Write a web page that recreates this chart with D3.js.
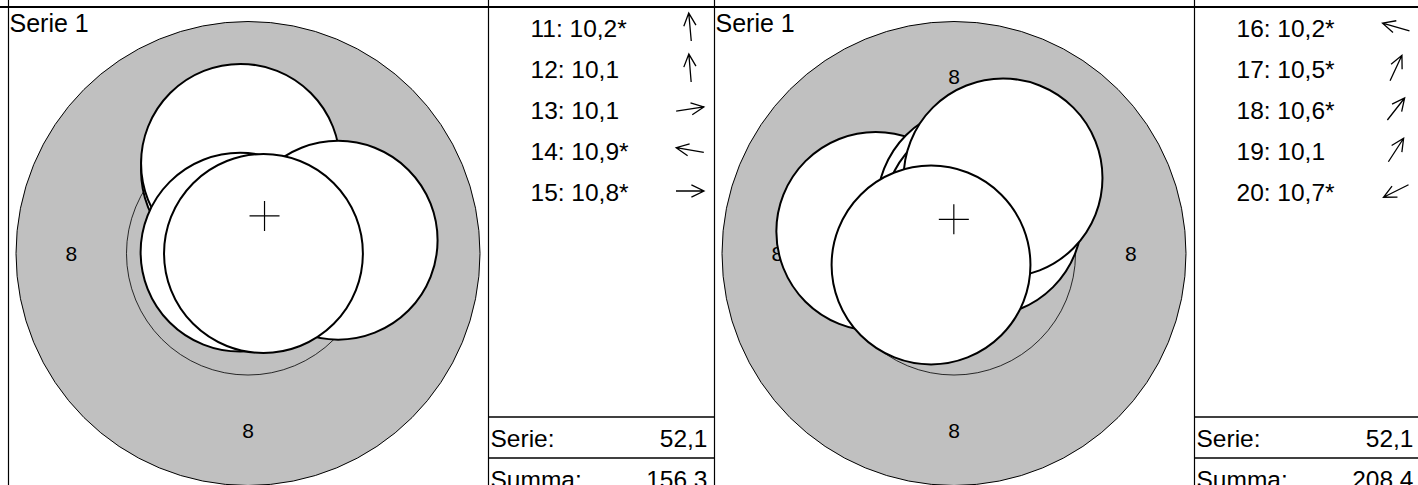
<!DOCTYPE html>
<html>
<head>
<meta charset="utf-8">
<script src="https://cdn.jsdelivr.net/npm/d3@7"></script>
<style>
  body { margin: 0; background: #fff; }
  svg { display: block; }
  text { font-family: "Liberation Sans", Arial, Helvetica, sans-serif; fill: #000; }
</style>
</head>
<body>
<div id="chart"></div>
<script>
// --- data ---------------------------------------------------------------
// shot numbers, decimal scores and positions (mm from target centre, x right, y up)
const shotNumbers = [[11, 12, 13, 14, 15], [16, 17, 18, 19, 20]];
const shotScores  = [[10.2, 10.1, 10.1, 10.9, 10.8], [10.2, 10.5, 10.6, 10.1, 10.7]];
const shotStars   = [[true, false, false, true, true], [true, true, true, false, true]];
const shotX       = [[-0.17, -0.17, 2.04, -0.18, 0.35], [-1.77, 0.51, 0.65, 1.11, -0.52]];
const shotY       = [[1.88, 2.04, 0.30, 0.03, 0.00], [0.50, 1.09, 0.83, 1.71, -0.26]];

const serieTitles   = ["Serie 1", "Serie 1"];
const serieTotals   = [52.1, 52.1];
const runningTotals = [156.3, 208.4];

// target geometry (10m air rifle, mm)
const ringOuter = 5.25;   // ring 8
const ringInner = 2.75;   // ring 9
const pelletRadius = 2.25;
const ringLabel = "8";
const ringLabelRadius = 4.0;

// --- layout ---------------------------------------------------------------
const width = 1418, height = 485;
const gridTop = 7, rowH = 41;
const panelW = 480, tableW = 226;
const panelX = [8, 714];
const tableX = [488, 1194];
const targetR = 232;
const centreY = 253.5;

const fmt = d3.formatLocale({decimal: ",", thousands: " ", grouping: [3], currency: ["", ""]}).format(".1f");

const svg = d3.select("#chart")
    .append("svg")
    .attr("width", width)
    .attr("height", height);

// grid lines
svg.append("line")
    .attr("x1", 0).attr("x2", width)
    .attr("y1", gridTop).attr("y2", gridTop)
    .attr("stroke", "#000").attr("stroke-width", 2);

[...panelX, ...tableX].forEach(x => {
    svg.append("line")
        .attr("x1", x + 0.5).attr("x2", x + 0.5)
        .attr("y1", 0).attr("y2", height)
        .attr("stroke", "#000").attr("stroke-width", 1.2);
});

const rowY = d3.scaleLinear().domain([0, 1]).range([gridTop, gridTop + rowH]);

serieTitles.forEach((title, s) => {
    const cx = panelX[s] + panelW / 2;

    // mm -> px
    const x = d3.scaleLinear().domain([-ringOuter, ringOuter]).range([cx - targetR, cx + targetR]);
    const y = d3.scaleLinear().domain([-ringOuter, ringOuter]).range([centreY + targetR, centreY - targetR]);
    const r = d3.scaleLinear().domain([0, ringOuter]).range([0, targetR]);

    const g = svg.append("g");

    // rings (ring 9 is only a thin line on the grey)
    g.append("circle")
        .attr("cx", x(0)).attr("cy", y(0)).attr("r", r(ringOuter))
        .attr("fill", "#c0c0c0").attr("stroke", "#000").attr("stroke-width", 1);
    g.append("circle")
        .attr("cx", x(0)).attr("cy", y(0)).attr("r", r(ringInner))
        .attr("fill", "none").attr("stroke", "#000").attr("stroke-width", 0.8);

    // ring numbers
    [[0, 1], [1, 0], [0, -1], [-1, 0]].forEach(([ux, uy]) => {
        g.append("text")
            .attr("x", x(ux * ringLabelRadius))
            .attr("y", y(uy * ringLabelRadius))
            .attr("dy", "0.36em")
            .attr("text-anchor", "middle")
            .attr("font-size", 21)
            .text(ringLabel);
    });

    // shots
    const shots = shotNumbers[s].map((n, i) => ({
        n, score: shotScores[s][i], star: shotStars[s][i], mx: shotX[s][i], my: shotY[s][i]
    }));

    g.selectAll("circle.shot")
        .data(shots)
        .enter()
        .append("circle")
        .attr("class", "shot")
        .attr("cx", d => x(d.mx))
        .attr("cy", d => y(d.my))
        .attr("r", r(pelletRadius))
        .attr("fill", "#fff")
        .attr("stroke", "#000")
        .attr("stroke-width", 2);

    // mean point of impact
    const mx = d3.mean(shots, d => d.mx), my = d3.mean(shots, d => d.my);
    const ch = 15;
    g.append("path")
        .attr("d", `M${x(mx) - ch},${y(my)}H${x(mx) + ch}M${x(mx)},${y(my) - ch}V${y(my) + ch}`)
        .attr("stroke", "#000").attr("stroke-width", 1.2).attr("fill", "none");

    g.append("text")
        .attr("x", panelX[s] + 1.5)
        .attr("y", 31.5)
        .attr("font-size", 25)
        .text(title);

    // shot list
    const tx = tableX[s];
    shots.forEach((d, i) => {
        g.append("text")
            .attr("x", tx + 42.5)
            .attr("y", rowY(i) + 30)
            .attr("font-size", 24.5)
            .text(`${d.n}: ${fmt(d.score)}${d.star ? "*" : ""}`);

        // direction arrow
        const ang = Math.atan2(d.my, d.mx);
        const ux = Math.cos(ang), uy = -Math.sin(ang);
        const ax = tx + 202, ay = rowY(i) + rowH / 2 - 0.5;
        const L = 14, H = 14, a = 0.45;
        const hx = ax + ux * L, hy = ay + uy * L;
        const p = d3.path();
        p.moveTo(ax - ux * L, ay - uy * L);
        p.lineTo(hx, hy);
        const back = Math.atan2(-uy, -ux);
        p.moveTo(hx + Math.cos(back + a) * H, hy + Math.sin(back + a) * H);
        p.lineTo(hx, hy);
        p.lineTo(hx + Math.cos(back - a) * H, hy + Math.sin(back - a) * H);
        g.append("path")
            .attr("d", p.toString())
            .attr("stroke", "#000").attr("stroke-width", 1.3).attr("fill", "none");
    });

    // totals
    [["Serie:", serieTotals[s]], ["Summa:", runningTotals[s]]].forEach(([lab, v], k) => {
        const yy = rowY(10 + k);
        g.append("line")
            .attr("x1", tx).attr("x2", tx + tableW)
            .attr("y1", yy).attr("y2", yy)
            .attr("stroke", "#000").attr("stroke-width", 1.5);
        g.append("text")
            .attr("x", tx + 2.5)
            .attr("y", yy + 30)
            .attr("font-size", 24.5)
            .text(lab);
        g.append("text")
            .attr("x", tx + tableW - 6.5)
            .attr("y", yy + 30)
            .attr("text-anchor", "end")
            .attr("font-size", 24.5)
            .text(fmt(v));
    });
});
</script>
</body>
</html>
